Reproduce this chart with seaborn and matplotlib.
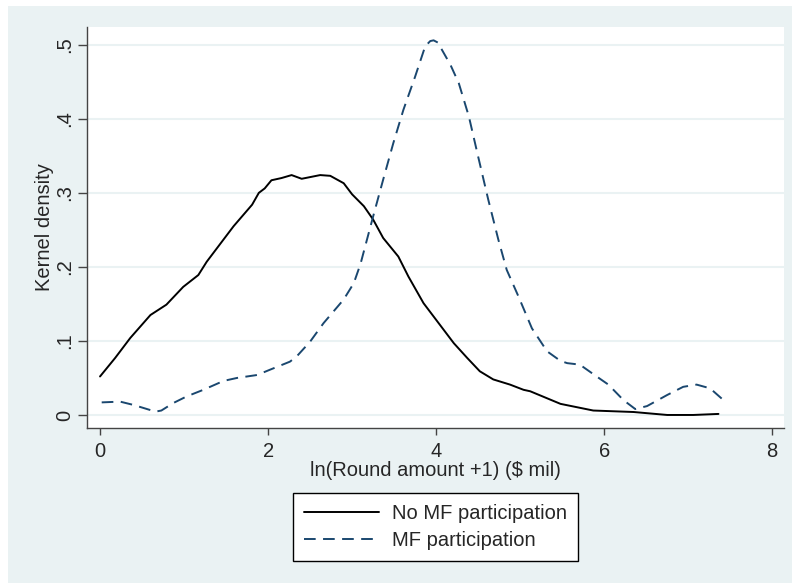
import numpy as np
import pandas as pd
import matplotlib
matplotlib.use("Agg")
import matplotlib.pyplot as plt
import seaborn as sns
from matplotlib.patches import Rectangle

# ---- data ----
no_mf_x = [0.0, 0.18, 0.36, 0.60, 0.79, 0.99, 1.17, 1.27, 1.39, 1.59, 1.81, 1.89, 1.96,
           2.04, 2.16, 2.28, 2.40, 2.62, 2.74, 2.90, 3.00, 3.14, 3.25, 3.37, 3.55, 3.67,
           3.85, 4.03, 4.21, 4.37, 4.52, 4.68, 4.88, 5.04, 5.12, 5.48, 5.87, 6.35, 6.75,
           7.06, 7.36]
no_mf_y = [0.052, 0.077, 0.104, 0.135, 0.149, 0.173, 0.189, 0.207, 0.225, 0.255, 0.284,
           0.300, 0.306, 0.317, 0.320, 0.324, 0.319, 0.324, 0.323, 0.313, 0.298, 0.282,
           0.264, 0.239, 0.214, 0.187, 0.151, 0.124, 0.097, 0.077, 0.059, 0.048, 0.041,
           0.034, 0.032, 0.015, 0.006, 0.004, 0.000, 0.000, 0.0014]

mf_x = [0.02, 0.24, 0.40, 0.66, 0.73, 0.87, 1.03, 1.23, 1.47, 1.63, 1.87, 2.02, 2.26,
        2.34, 2.50, 2.66, 2.90, 3.02, 3.10, 3.25, 3.37, 3.49, 3.61, 3.75, 3.87, 3.93,
        3.97, 4.02, 4.07, 4.17, 4.27, 4.39, 4.50, 4.62, 4.74, 4.84, 4.98, 5.14, 5.32,
        5.48, 5.56, 5.71, 5.91, 6.05, 6.23, 6.37, 6.51, 6.75, 6.94, 7.10, 7.26, 7.44]
mf_y = [0.017, 0.018, 0.0135, 0.0045, 0.006, 0.016, 0.025, 0.034, 0.046, 0.050, 0.054,
        0.061, 0.072, 0.079, 0.099, 0.124, 0.156, 0.178, 0.204, 0.268, 0.318, 0.367,
        0.412, 0.457, 0.498, 0.505, 0.506, 0.503, 0.493, 0.473, 0.448, 0.403, 0.349,
        0.291, 0.237, 0.196, 0.160, 0.117, 0.086, 0.073, 0.070, 0.068, 0.052, 0.041,
        0.020, 0.008, 0.012, 0.027, 0.038, 0.041, 0.036, 0.018]

series_labels = ["No MF participation", "MF participation"]
x_ticks = [0, 2, 4, 6, 8]
y_ticks = [0, 0.1, 0.2, 0.3, 0.4, 0.5]
y_tick_labels = ["0", ".1", ".2", ".3", ".4", ".5"]

# ---- style ----
sns.set_style("white")
plt.rcParams["font.family"] = ["Liberation Sans", "DejaVu Sans"]

BG = "#EAF2F3"
NAVY = "#1A476F"
FS = 14.5

fig = plt.figure(figsize=(7.92, 5.83), dpi=100)
fig.patch.set_facecolor("white")
fig.add_artist(Rectangle((8 / 792, 0), 1 - 8 / 792, 1 - 6 / 583,
                         transform=fig.transFigure, facecolor=BG,
                         edgecolor="none", zorder=-10))

ax = fig.add_axes([87 / 792, 1 - 428 / 583, (784 - 87) / 792, (428 - 27) / 583])
ax.set_facecolor("white")

df1 = pd.DataFrame({"x": no_mf_x, "y": no_mf_y})
df2 = pd.DataFrame({"x": mf_x, "y": mf_y})

sns.lineplot(data=df1, x="x", y="y", ax=ax, color="black", linewidth=1.4,
             label=series_labels[0], sort=False)
sns.lineplot(data=df2, x="x", y="y", ax=ax, color=NAVY, linewidth=1.4,
             label=series_labels[1], sort=False)
ax.lines[1].set_dashes((6, 3.8))

ax.set_xlim(-0.155, 8.14)
ax.set_ylim(-0.0176, 0.524)

ax.set_xticks(x_ticks)
ax.set_xticklabels([str(t) for t in x_ticks])
ax.set_yticks(y_ticks)
ax.set_yticklabels(y_tick_labels, rotation=90, va="center")

for y in y_ticks:
    ax.axhline(y, color=BG, linewidth=1.5, zorder=0)

for s in ["top", "right"]:
    ax.spines[s].set_visible(False)
for s in ["left", "bottom"]:
    ax.spines[s].set_color("#444444")
    ax.spines[s].set_linewidth(1.0)

ax.tick_params(axis="x", direction="out", length=5, width=1, color="#444444",
               labelsize=FS, pad=5, bottom=True)
ax.tick_params(axis="y", direction="out", length=6.5, width=1, color="#444444",
               labelsize=FS, pad=2.5, left=True)

ax.set_xlabel("ln(Round amount +1) ($ mil)", fontsize=FS, labelpad=0)
ax.set_ylabel("Kernel density", fontsize=FS, labelpad=1)

ax.get_legend().remove()
handles = ax.lines[:2]
leg = fig.legend(handles, series_labels, loc="upper left",
                 bbox_to_anchor=(293 / 792, 1 - 493 / 583),
                 frameon=True, fancybox=False, framealpha=1, fontsize=FS,
                 handlelength=3.7, borderpad=0.55, labelspacing=0.4,
                 handletextpad=0.65, borderaxespad=0)
leg.get_frame().set_edgecolor("black")
leg.get_frame().set_linewidth(1.0)
leg.get_frame().set_facecolor("white")

fig.savefig("out.png", dpi=100, facecolor=fig.get_facecolor())
